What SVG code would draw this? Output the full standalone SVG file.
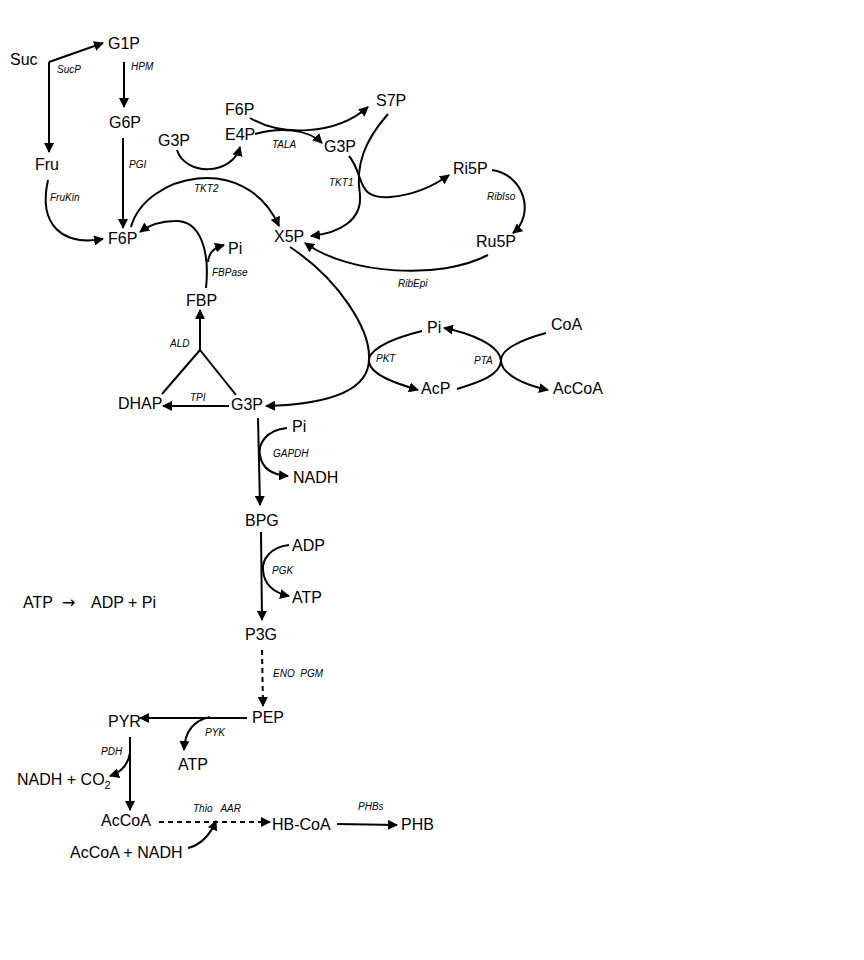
<svg xmlns="http://www.w3.org/2000/svg" width="864" height="960" viewBox="0 0 864 960">
<style>
.n{font-family:"Liberation Sans",Arial,sans-serif;font-size:16px;fill:#000}
.e{font-family:"Liberation Sans",Arial,sans-serif;font-size:10px;font-style:italic;fill:#000}
.c{fill:none;stroke:#000;stroke-width:2}
.d{stroke-dasharray:5,4}
</style>
<defs>
<marker id="ah" viewBox="0 0 10 10" refX="9" refY="5" markerWidth="5" markerHeight="5" orient="auto" markerUnits="strokeWidth">
<path d="M0,0 L10,5 L0,10 z" fill="#000"/>
</marker>
</defs>
<rect width="864" height="960" fill="#fff"/>
<g id="connectors">
<path class="c" d="M49,62 L103,43" marker-end="url(#ah)"/>
<path class="c" d="M49,62 L49,152" marker-end="url(#ah)"/>
<path class="c" d="M124,62 L124,107" marker-end="url(#ah)"/>
<path class="c" d="M123,138 L123,228" marker-end="url(#ah)"/>
<path class="c" d="M48,180 C38,225 62,246 103,239" marker-end="url(#ah)"/>
<path class="c" d="M250,118 C280,136 335,136 368,107" marker-end="url(#ah)"/>
<path class="c" d="M255,134 C280,127 308,129 322,143" marker-end="url(#ah)"/>
<path class="c" d="M177,150 C185,176 232,176 240,147" marker-end="url(#ah)"/>
<path class="c" d="M131,227 C145,175 245,150 279,226" marker-end="url(#ah)"/>
<path class="c" d="M388,114 C365,140 355,165 360,195 C362,220 340,233 311,236" marker-end="url(#ah)"/>
<path class="c" d="M349,156 C365,175 355,200 390,197 C415,195 435,185 449,175" marker-end="url(#ah)"/>
<path class="c" d="M492,170 C525,175 535,215 513,233" marker-end="url(#ah)"/>
<path class="c" d="M488,255 C440,280 350,275 305,243" marker-end="url(#ah)"/>
<path class="c" d="M206,288 C210,250 200,220 175,221 C160,221 148,226 140,232" marker-end="url(#ah)"/>
<path class="c" d="M208,262 C209,252 214,248 224,245" marker-end="url(#ah)"/>
<path class="c" d="M200,350 L200,310" marker-end="url(#ah)"/>
<path class="c" d="M200,350 L162,394 M200,350 L236,395"/>
<path class="c" d="M229,406 L163,406" marker-end="url(#ah)"/>
<path class="c" d="M290,247 C340,280 370,330 369,358 C370,400 300,405 266,406" marker-end="url(#ah)"/>
<path class="c" d="M422,331 C385,340 367,352 369,362 C371,375 395,383 418,390" marker-end="url(#ah)"/>
<path class="c" d="M457,389 C480,382 500,375 501,361 C500,345 470,333 444,328" marker-end="url(#ah)"/>
<path class="c" d="M546,333 C520,340 500,350 501,361 C502,375 525,385 548,390" marker-end="url(#ah)"/>
<path class="c" d="M258,418 L260,505" marker-end="url(#ah)"/>
<path class="c" d="M287,428 C265,430 258,445 260,455 C262,470 275,475 288,476" marker-end="url(#ah)"/>
<path class="c" d="M261,532 L262,620" marker-end="url(#ah)"/>
<path class="c" d="M289,545 C270,547 262,560 263,570 C264,585 275,593 289,596" marker-end="url(#ah)"/>
<path class="c d" d="M262,650 L263,706" marker-end="url(#ah)"/>
<path class="c" d="M247,718 L140,718" marker-end="url(#ah)"/>
<path class="c" d="M210,717 C195,720 185,730 184,750" marker-end="url(#ah)"/>
<path class="c" d="M130,737 L130,810" marker-end="url(#ah)"/>
<path class="c" d="M130,753 C128,765 122,772 110,776" marker-end="url(#ah)"/>
<path class="c d" d="M159,822 L270,822" marker-end="url(#ah)"/>
<path class="c" d="M188,848 C200,845 210,835 216,821" marker-end="url(#ah)"/>
<path class="c" d="M337,824 L397,825" marker-end="url(#ah)"/>
</g>
<g id="Suc"><text class="n" x="10" y="65">Suc</text></g>
<g id="G1P"><text class="n" x="108" y="49">G1P</text></g>
<g id="G6P"><text class="n" x="109" y="128">G6P</text></g>
<g id="Fru"><text class="n" x="35" y="170">Fru</text></g>
<g id="F6P"><text class="n" x="108" y="244">F6P</text></g>
<g id="G3P_a"><text class="n" x="158" y="146">G3P</text></g>
<g id="F6P_b"><text class="n" x="225" y="115">F6P</text></g>
<g id="E4P"><text class="n" x="225" y="140">E4P</text></g>
<g id="S7P"><text class="n" x="376" y="106">S7P</text></g>
<g id="G3P_b"><text class="n" x="324" y="152">G3P</text></g>
<g id="Ri5P"><text class="n" x="453" y="174">Ri5P</text></g>
<g id="X5P"><text class="n" x="274" y="242">X5P</text></g>
<g id="Ru5P"><text class="n" x="476" y="247">Ru5P</text></g>
<g id="Pi_a"><text class="n" x="228" y="254">Pi</text></g>
<g id="FBP"><text class="n" x="186" y="306">FBP</text></g>
<g id="DHAP"><text class="n" x="118" y="409">DHAP</text></g>
<g id="G3P_c"><text class="n" x="231" y="410">G3P</text></g>
<g id="Pi_b"><text class="n" x="427" y="333">Pi</text></g>
<g id="CoA"><text class="n" x="551" y="330">CoA</text></g>
<g id="AcP"><text class="n" x="421" y="394">AcP</text></g>
<g id="AcCoA_a"><text class="n" x="553" y="394">AcCoA</text></g>
<g id="Pi_c"><text class="n" x="292" y="432">Pi</text></g>
<g id="NADH"><text class="n" x="293" y="483">NADH</text></g>
<g id="BPG"><text class="n" x="245" y="526">BPG</text></g>
<g id="ADP"><text class="n" x="292" y="551">ADP</text></g>
<g id="ATP_a"><text class="n" x="292" y="603">ATP</text></g>
<g id="P3G"><text class="n" x="245" y="640">P3G</text></g>
<g id="ATPeq"><text class="n" x="23" y="608">ATP</text><text class="n" x="62" y="608" style="font-family:'DejaVu Sans',sans-serif">→</text><text class="n" x="91" y="608">ADP + Pi</text></g>
<g id="PEP"><text class="n" x="252" y="723">PEP</text></g>
<g id="PYR"><text class="n" x="108" y="727">PYR</text></g>
<g id="ATP_b"><text class="n" x="178" y="770">ATP</text></g>
<g id="NADHCO2"><text class="n" x="17" y="785">NADH + CO<tspan font-size="11" dy="4">2</tspan></text></g>
<g id="AcCoA_b"><text class="n" x="101" y="826">AcCoA</text></g>
<g id="AcCoANADH"><text class="n" x="70" y="858">AcCoA + NADH</text></g>
<g id="HBCoA"><text class="n" x="272" y="830">HB-CoA</text></g>
<g id="PHB"><text class="n" x="401" y="830">PHB</text></g>
<g id="labels">
<text class="e" x="57" y="73">SucP</text>
<text class="e" x="131" y="70">HPM</text>
<text class="e" x="129" y="168">PGI</text>
<text class="e" x="50" y="201">FruKin</text>
<text class="e" x="194" y="192">TKT2</text>
<text class="e" x="272" y="148">TALA</text>
<text class="e" x="329" y="186">TKT1</text>
<text class="e" x="487" y="200">RibIso</text>
<text class="e" x="398" y="287">RibEpi</text>
<text class="e" x="212" y="276">FBPase</text>
<text class="e" x="170" y="347">ALD</text>
<text class="e" x="190" y="401">TPI</text>
<text class="e" x="376" y="362">PKT</text>
<text class="e" x="474" y="364">PTA</text>
<text class="e" x="273" y="457">GAPDH</text>
<text class="e" x="272" y="574">PGK</text>
<text class="e" x="273" y="677" xml:space="preserve">ENO  PGM</text>
<text class="e" x="205" y="736">PYK</text>
<text class="e" x="101" y="755">PDH</text>
<text class="e" x="193" y="812" xml:space="preserve">Thio   AAR</text>
<text class="e" x="358" y="810">PHBs</text>
</g>
</svg>
